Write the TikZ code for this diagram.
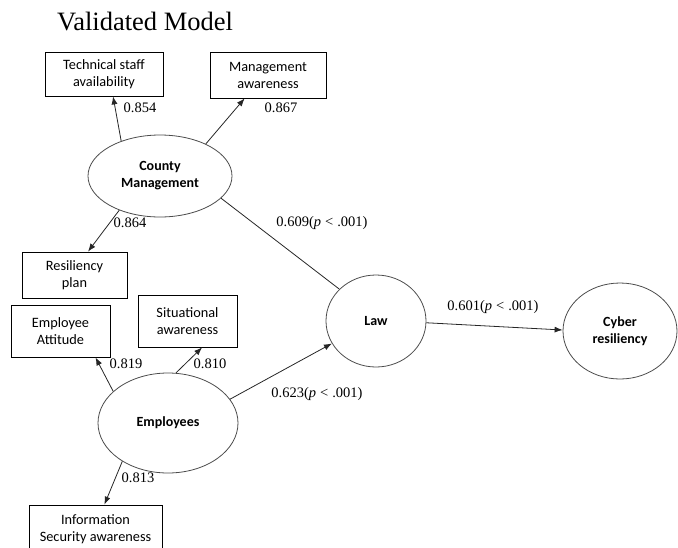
\documentclass[tikz,border=0pt]{standalone}
\usepackage{fontspec}
\setmainfont{Liberation Serif}
\newfontfamily\calibrifont{Carlito}
\usetikzlibrary{arrows.meta,shapes.geometric}
\begin{document}
\begin{tikzpicture}[x=1pt,y=-1pt,
  box/.style={draw=black, line width=0.8pt, rectangle, inner sep=0pt, align=center, font=\calibrifont\fontsize{14.3}{17}\selectfont},
  latent/.style={draw=black!70, line width=0.8pt, ellipse, inner sep=0pt, align=center, font=\calibrifont\bfseries\fontsize{14}{17}\selectfont},
  arr/.style={draw=black!85, line width=0.8pt, -{Latex[length=8pt,width=6pt]}},
  plain/.style={draw=black!85, line width=0.8pt},
  coef/.style={font=\fontsize{14.5}{17}\selectfont, inner sep=0pt}]
\useasboundingbox (0,0) rectangle (678,547);
\node[font=\fontsize{26.5}{30}\selectfont, inner sep=0pt] (title) at (145,22) {Validated Model};
% boxes
\node[box, minimum width=118pt, minimum height=44pt] (tech) at (104,74) {Technical staff\\availability};
\node[box, minimum width=116pt, minimum height=46pt] (mgmt) at (268,75) {Management\\awareness};
\node[box, minimum width=105pt, minimum height=46pt] (res) at (74.5,275) {Resiliency\\plan};
\node[box, minimum width=99pt, minimum height=52pt] (sit) at (187.5,321) {Situational\\awareness};
\node[box, minimum width=99pt, minimum height=52pt] (att) at (60.5,331) {Employee\\Attitude};
\node[box, minimum width=133pt, minimum height=48pt] (info) at (95.5,529) {Information\\Security awareness};
% latent variables
\node[latent, minimum width=144pt, minimum height=82pt] (cm) at (160,176) {County\\Management};
\node[latent, minimum width=140pt, minimum height=100pt] (emp) at (168,423) {Employees};
\node[latent, minimum width=100pt, minimum height=92pt] (law) at (376,321) {Law};
\node[latent, minimum width=114pt, minimum height=96pt] (cyb) at (620,331) {Cyber\\resiliency};
% connectors
\draw[arr] (cm.138) -- (tech.-68);
\draw[arr] (cm.35) -- (mgmt.-135);
\draw[arr] (cm.-140) -- (res.60);
\draw[plain] (cm.-20) -- (law.139);
\draw[arr] (emp.150) -- (att.-37);
\draw[arr] (emp.81) -- (sit.-61);
\draw[arr] (emp.-140) -- (info.70);
\draw[arr] (emp.21) -- (law.207);
\draw[arr] (law.-2) -- (cyb.179);
% coefficients
\node[coef] (c1) at (140,108) {0.854};
\node[coef] (c2) at (281,108) {0.867};
\node[coef] (c3) at (130,223) {0.864};
\node[coef] (c4) at (322,223) {0.609(\textit{p}\;<\;.001)};
\node[coef] (c5) at (126,364) {0.819};
\node[coef] (c6) at (210,364) {0.810};
\node[coef] (c7) at (138,478) {0.813};
\node[coef] (c8) at (317,394) {0.623(\textit{p}\;<\;.001)};
\node[coef] (c9) at (493,307) {0.601(\textit{p}\;<\;.001)};
\end{tikzpicture}
\end{document}
